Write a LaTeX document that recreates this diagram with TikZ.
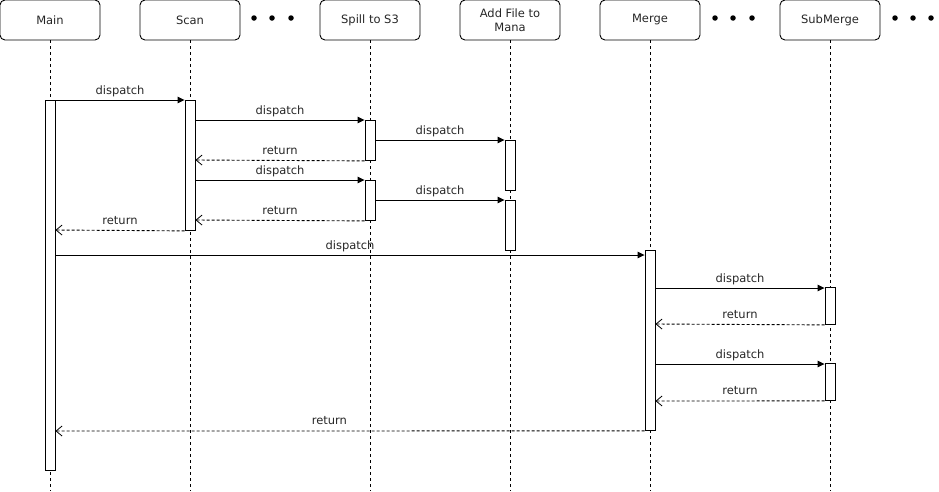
\documentclass[tikz,border=0pt]{standalone}
\usepackage{fontspec}
\setmainfont{DejaVu Sans}
\usetikzlibrary{arrows.meta}
\begin{document}
\begin{tikzpicture}[x=1pt,y=-1pt,
  font=\fontsize{11.5}{13.5}\selectfont,
  every node/.style={text=black!85},
  head/.style={draw, rounded corners=5pt, minimum width=100, minimum height=40, align=center, inner sep=1pt, line width=0.9pt},
  life/.style={draw, line width=0.8pt, dash pattern=on 3pt off 3pt},
  act/.style={draw, fill=white, minimum width=10, inner sep=0pt, anchor=north, line width=0.9pt},
  call/.style={draw, line width=0.9pt, -{Triangle[length=7pt,width=6.5pt]}},
  ret/.style={draw, line width=0.9pt, dash pattern=on 3pt off 2pt, -{Straight Barb[length=6pt,width=10pt,line width=0.8pt]}},
  lbl/.style={anchor=base, yshift=6pt, inner sep=0pt},
  dot/.style={fill=black, circle, inner sep=0pt, minimum size=5.5}
]
\useasboundingbox (0,0) rectangle (939,491);

% participants
\node[head] (main)  at (50,20)  {Main};
\node[head] (scan)  at (190,20) {Scan};
\node[head] (spill) at (370,20) {Spill to S3};
\node[head] (add)   at (510,20) {Add File to\\Mana};
\node[head] (merge) at (650,20) {Merge};
\node[head] (sub)   at (830,20) {SubMerge};

% ellipses between participants
\foreach \x/\n in {254/a,272/b,291/c,715/d,733/e,752/f,895/g,913/h,931/i}
  \node[dot] (dot\n) at (\x,18) {};

% lifelines
\foreach \p in {main,scan,spill,add,merge,sub}
  \draw[life] (\p.south) -- (\p.south |- 0,491);

% activation bars
\node[act, minimum height=370] (mainA)  at (50,100)  {};
\node[act, minimum height=130] (scanA)  at (190,100) {};
\node[act, minimum height=40]  (spillA) at (370,120) {};
\node[act, minimum height=40]  (spillB) at (370,180) {};
\node[act, minimum height=50]  (addA)   at (510,140) {};
\node[act, minimum height=50]  (addB)   at (510,200) {};
\node[act, minimum height=180] (mergeA) at (650,250) {};
\node[act, minimum height=37]  (subA)   at (830,287) {};
\node[act, minimum height=37]  (subB)   at (830,363) {};

% messages
\draw[call] (mainA.east |- 0,100) -- node[lbl] {dispatch} (scanA.west |- 0,100);
\draw[call] (scanA.east |- 0,120) -- node[lbl] {dispatch} (spillA.north west);
\draw[call] (spillA.east |- 0,140) -- node[lbl] {dispatch} (addA.north west);
\draw[ret]  (spillA.south west) -- node[lbl] {return} (scanA.east |- 0,160);
\draw[call] (scanA.east |- 0,180) -- node[lbl] {dispatch} (spillB.north west);
\draw[call] (spillB.east |- 0,200) -- node[lbl] {dispatch} (addB.north west);
\draw[ret]  (spillB.south west) -- node[lbl] {return} (scanA.east |- 0,220);
\draw[ret]  (scanA.south west) -- node[lbl] {return} (mainA.east |- 0,230);
\draw[call] (mainA.east |- 0,255) -- node[lbl] {dispatch} (mergeA.west |- 0,255);
\draw[call] (mergeA.east |- 0,288) -- node[lbl] {dispatch} (subA.west |- 0,288);
\draw[ret]  (subA.south west) -- node[lbl] {return} (mergeA.east |- 0,324);
\draw[call] (mergeA.east |- 0,364) -- node[lbl] {dispatch} (subB.west |- 0,364);
\draw[ret]  (subB.south west) -- node[lbl] {return} (mergeA.east |- 0,401);
\draw[ret]  (mergeA.south west) -- node[lbl, pos=0.535] {return} (mainA.east |- 0,431);
\end{tikzpicture}
\end{document}
